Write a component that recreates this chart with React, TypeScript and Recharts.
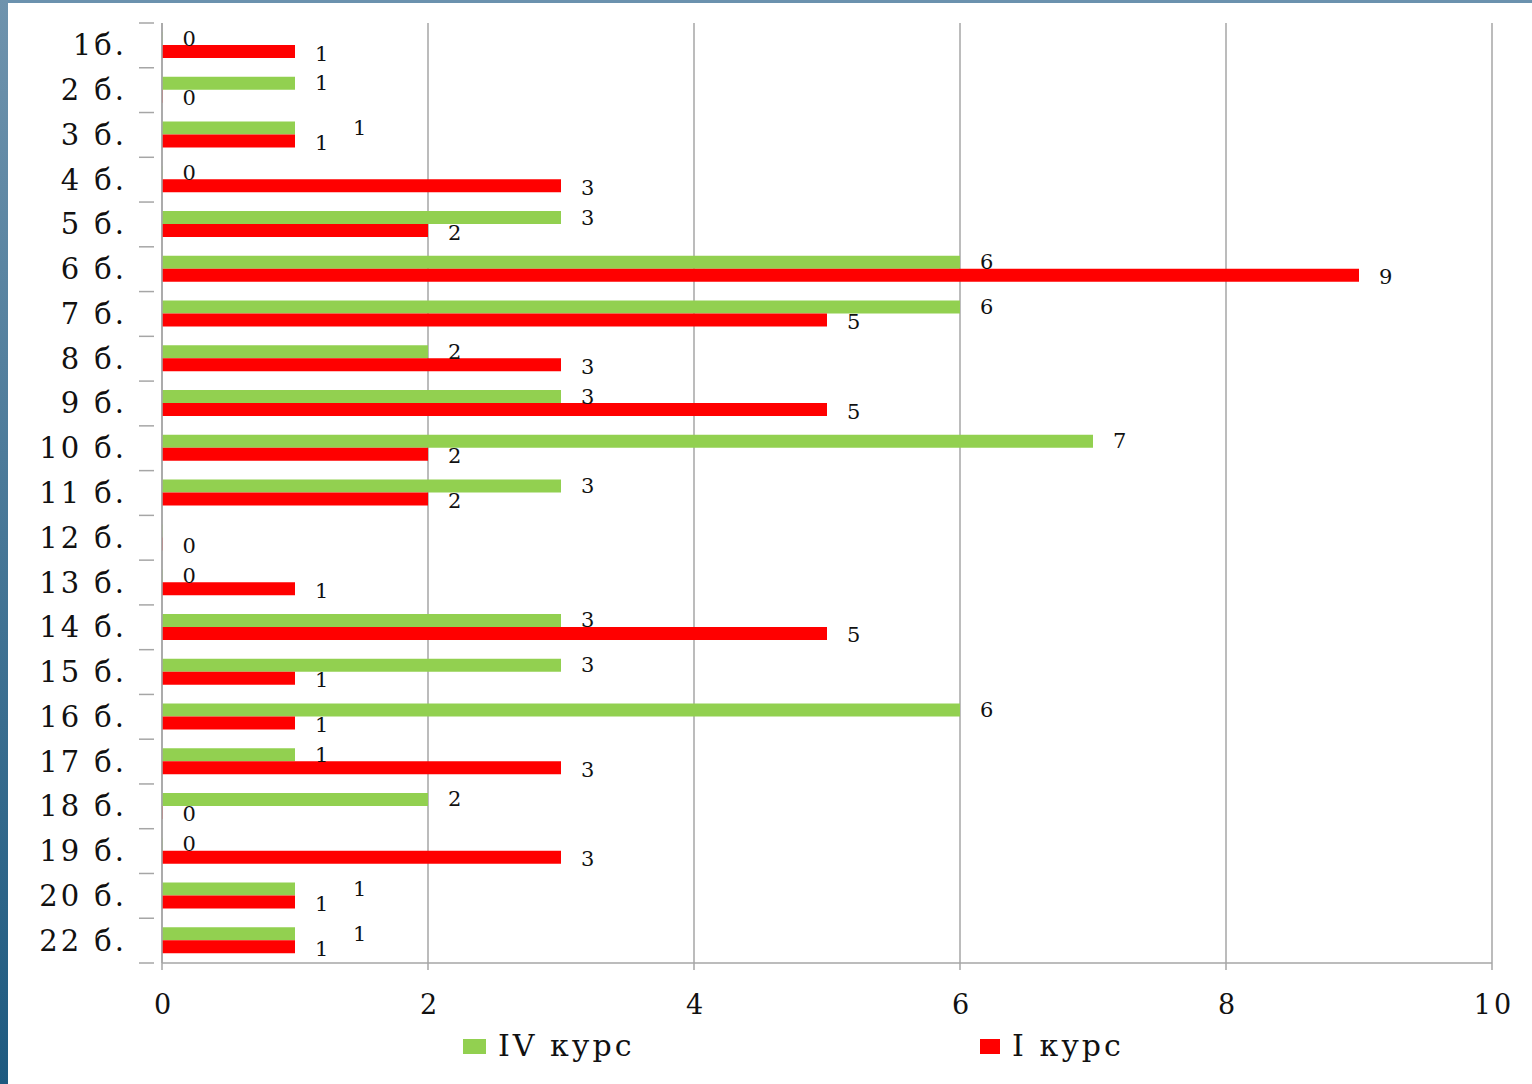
import { BarChart, Bar, XAxis, YAxis, CartesianGrid, LabelList } from 'recharts';

const categories = ['1б.', '2 б.', '3 б.', '4 б.', '5 б.', '6 б.', '7 б.', '8 б.', '9 б.', '10 б.', '11 б.', '12 б.', '13 б.', '14 б.', '15 б.', '16 б.', '17 б.', '18 б.', '19 б.', '20 б.', '22 б.'];
const course4 = [0, 1, 1, 0, 3, 6, 6, 2, 3, 7, 3, 0, 0, 3, 3, 6, 1, 2, 0, 1, 1];
const course1 = [1, 0, 1, 3, 2, 9, 5, 3, 5, 2, 2, 0, 1, 5, 1, 1, 3, 0, 3, 1, 1];
const xTicks = [0, 2, 4, 6, 8, 10];

const data = categories.map((name, i) => ({ name, iv: course4[i], i1: course1[i] }));

const FONT = '"DejaVu Serif", "Liberation Serif", serif';
const GREEN = '#92d050';
const RED = '#ff0000';
const AXIS = '#a6a6a6';
const INK = '#111';

const W = 1532;
const H = 1084;
const TOP = 23;
const BOTTOM = 121;
const band = (H - TOP - BOTTOM) / categories.length;

function CategoryTick(props: any) {
  const { x, y, payload, index } = props;
  const last = index === categories.length - 1;
  return (
    <g>
      <line x1={x - 15} x2={x} y1={y - band / 2} y2={y - band / 2} stroke={AXIS} strokeWidth={1.5} />
      {last && <line x1={x - 15} x2={x} y1={y + band / 2} y2={y + band / 2} stroke={AXIS} strokeWidth={1.5} />}
      <text x={x - 27} y={y} dy={10} textAnchor="end" fontSize={29} letterSpacing={3} fontFamily={FONT} fill={INK}>
        {payload.value}
      </text>
    </g>
  );
}

// green labels move right when both bars share the same value, zero pair shows one label
const makeLabel = (key: 'iv' | 'i1') => (p: any) => {
  const vb = p.viewBox ?? p;
  const i = p.index;
  const v = key === 'iv' ? course4[i] : course1[i];
  const other = key === 'iv' ? course1[i] : course4[i];
  if (v === undefined) return null;
  if (key === 'iv' && v === 0 && other === 0) return null;
  const shift = key === 'iv' && v === other ? 38 : 0;
  const x = vb.x + Math.max(vb.width, 0) + 20 + shift;
  const y = vb.y + vb.height / 2 + (key === 'iv' ? 0 : 2);
  return (
    <text key={`${key}-${i}`} x={x} y={y} dy={7} fontSize={21} fontFamily={FONT} fill={INK}>
      {v}
    </text>
  );
};

export default function App() {
  return (
    <div style={{ position: 'absolute', left: 0, top: 0, width: W, height: H, background: '#fff', overflow: 'hidden' }}>
      <div style={{ position: 'absolute', left: 0, top: 0, width: W, height: 3, background: '#6b92ae' }} />
      <div style={{ position: 'absolute', left: 0, top: 0, width: 8, height: H, background: 'linear-gradient(#6f93ad, #1e5a80)' }} />
      <BarChart
        width={W}
        height={H}
        data={data}
        layout="vertical"
        margin={{ top: TOP, right: 40, left: 0, bottom: BOTTOM - 60 }}
        barGap={0}
        barSize={13}
      >
        <CartesianGrid horizontal={false} stroke={AXIS} strokeWidth={1.5} />
        <XAxis
          type="number"
          domain={[0, 10]}
          ticks={xTicks}
          height={60}
          axisLine={{ stroke: AXIS, strokeWidth: 1.5 }}
          tickLine={{ stroke: AXIS, strokeWidth: 1.5 }}
          tickSize={7}
          tickMargin={25}
          tick={{ fontSize: 27, fontFamily: FONT, fill: INK, letterSpacing: 3, dx: 2 }}
        />
        <YAxis
          type="category"
          dataKey="name"
          width={162}
          axisLine={{ stroke: AXIS, strokeWidth: 1.5 }}
          tickLine={false}
          tick={<CategoryTick />}
          interval={0}
        />
        <Bar dataKey="iv" name="IV курс" fill={GREEN} minPointSize={0.5} isAnimationActive={false}>
          <LabelList dataKey="iv" content={makeLabel('iv')} />
        </Bar>
        <Bar dataKey="i1" name="I курс" fill={RED} minPointSize={0.5} isAnimationActive={false}>
          <LabelList dataKey="i1" content={makeLabel('i1')} />
        </Bar>
      </BarChart>
      <div
        style={{
          position: 'absolute',
          top: 1028,
          left: 0,
          width: W,
          fontFamily: FONT,
          fontSize: 30,
          letterSpacing: 3,
          color: INK,
        }}
      >
        <span style={{ position: 'absolute', left: 463, top: 11, width: 23, height: 15, background: GREEN }} />
        <span style={{ position: 'absolute', left: 498, top: 0 }}>IV курс</span>
        <span style={{ position: 'absolute', left: 980, top: 11, width: 20, height: 15, background: RED }} />
        <span style={{ position: 'absolute', left: 1012, top: 0 }}>I курс</span>
      </div>
    </div>
  );
}
